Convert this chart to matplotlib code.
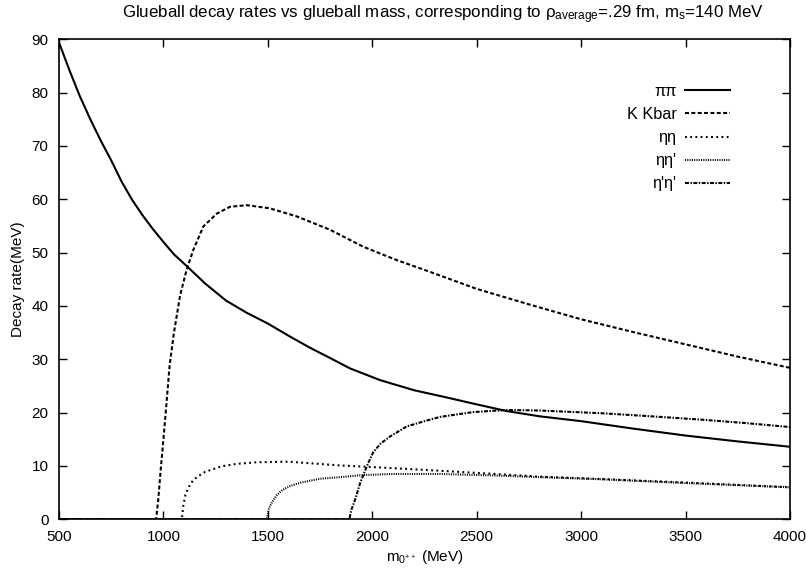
import matplotlib
matplotlib.use("Agg")
import matplotlib.pyplot as plt

plt.rcParams['font.family'] = ['Liberation Sans', 'DejaVu Sans']
plt.rcParams['mathtext.fontset'] = 'custom'
plt.rcParams['mathtext.rm'] = 'Liberation Sans'
plt.rcParams['mathtext.it'] = 'Liberation Sans'
plt.rcParams['mathtext.default'] = 'regular'

# ---- data ----
m_pipi = [500, 550, 600, 650, 700, 750, 800, 850, 900, 950, 1000, 1050, 1111, 1200,
          1300, 1400, 1500, 1600, 1700, 1800, 1893, 2037, 2200, 2350, 2483, 2643, 2803,
          3000, 3250, 3500, 3750, 4000]
g_pipi = [89.4, 84.2, 79.3, 75.0, 71.0, 67.3, 63.3, 59.9, 57.0, 54.4, 52.0, 49.7, 47.5, 44.2,
          41.0, 38.7, 36.7, 34.4, 32.2, 30.2, 28.3, 26.1, 24.2, 22.9, 21.7, 20.3, 19.3,
          18.4, 17.0, 15.7, 14.6, 13.6]

m_kk = [500, 965, 975, 988, 1000, 1016, 1030, 1050, 1080, 1111, 1143, 1191, 1255, 1319,
        1400, 1510, 1638, 1797, 1957, 2117, 2276, 2500, 2750, 3000, 3250, 3500, 3750, 4000]
g_kk = [0, 0, 3.6, 9.8, 15.0, 22.4, 29.0, 34.9, 42.0, 46.8, 50.5, 54.9, 57.3, 58.6,
        58.9, 58.3, 56.8, 54.3, 51.1, 48.6, 46.4, 43.2, 40.3, 37.5, 35.1, 32.8, 30.5, 28.4]

m_ee = [500, 1088, 1095, 1105, 1122, 1140, 1163, 1200, 1275, 1350, 1450, 1600, 1845,
        2000, 2324, 2500, 2803, 3000, 3500, 4000]
g_ee = [0, 0, 2.5, 4.6, 6.1, 7.2, 8.0, 8.9, 9.9, 10.4, 10.7, 10.8, 10.1,
        9.8, 9.1, 8.7, 8.0, 7.7, 6.9, 6.0]

m_eep = [500, 1495, 1505, 1520, 1542, 1570, 1610, 1660, 1750, 1845, 1957, 2100, 2324,
         2600, 2803, 3100, 3500, 4000]
g_eep = [0, 0, 2.0, 3.2, 4.5, 5.5, 6.3, 6.9, 7.6, 7.9, 8.3, 8.5, 8.5,
         8.2, 7.9, 7.5, 6.8, 6.0]

m_epep = [500, 1890, 1900, 1917, 1941, 1957, 1980, 2005, 2040, 2084, 2164, 2250, 2324,
          2483, 2643, 2800, 3092, 3300, 3571, 3800, 4000]
g_epep = [0, 0, 1.8, 3.6, 6.7, 8.3, 10.5, 12.6, 14.2, 15.5, 17.4, 18.4, 19.2,
          20.1, 20.5, 20.4, 19.9, 19.4, 18.7, 18.0, 17.3]

labels = ['\u03c0\u03c0', 'K Kbar', '\u03b7\u03b7', "\u03b7\u03b7'", "\u03b7'\u03b7'"]
x_ticks = [500, 1000, 1500, 2000, 2500, 3000, 3500, 4000]
y_ticks = [0, 10, 20, 30, 40, 50, 60, 70, 80, 90]

# ---- figure ----
fig = plt.figure(figsize=(8.06, 5.70), dpi=100)
W, H = 806, 570
x0, x1, ytop, ybot = 59, 790, 39.3, 519.3
ax = fig.add_axes([x0 / W, (H - ybot) / H, (x1 - x0) / W, (ybot - ytop) / H])

lw = 1.5
ax.plot(m_pipi, g_pipi, color='black', lw=lw, ls='-', label=labels[0])
ax.plot(m_kk, g_kk, color='black', lw=lw, ls=(0, (1.9, 1.15)), label=labels[1])
ax.plot(m_ee, g_ee, color='black', lw=lw, ls=(0, (0.9, 1.6)), label=labels[2])
ax.plot(m_eep, g_eep, color='black', lw=lw, ls=(0, (0.5, 0.6)), label=labels[3])
ax.plot(m_epep, g_epep, color='black', lw=lw, ls=(0, (1.9, 0.7, 0.7, 0.7)), label=labels[4])

ax.set_xlim(500, 4000)
ax.set_ylim(0, 90)
ax.set_xticks(x_ticks)
ax.set_yticks(y_ticks)
ax.tick_params(direction='in', length=5.5, width=1.0, top=True, right=True,
               labelsize=11, pad=7.5)
for s in ax.spines.values():
    s.set_linewidth(1.2)

ax.set_xlabel('m$_{0^{++}}$ (MeV)', fontsize=11, labelpad=3)
ax.set_ylabel('Decay rate(MeV)', fontsize=11, labelpad=5)

fig.text(122 / W, 1 - 15 / H,
         'Glueball decay rates vs glueball mass, corresponding to '
         '$\\rho_{average}$=.29 fm, m$_s$=140 MeV',
         ha='left', va='center', fontsize=12.2)

leg = ax.legend(loc='upper right', bbox_to_anchor=(0.918, 0.907), frameon=False,
                markerfirst=False, handlelength=2.8, handletextpad=0.5,
                labelspacing=0.5, borderpad=0, borderaxespad=0, fontsize=11.7)
for t in leg.get_texts():
    t.set_ha('right')

fig.savefig('out.png', dpi=100)
